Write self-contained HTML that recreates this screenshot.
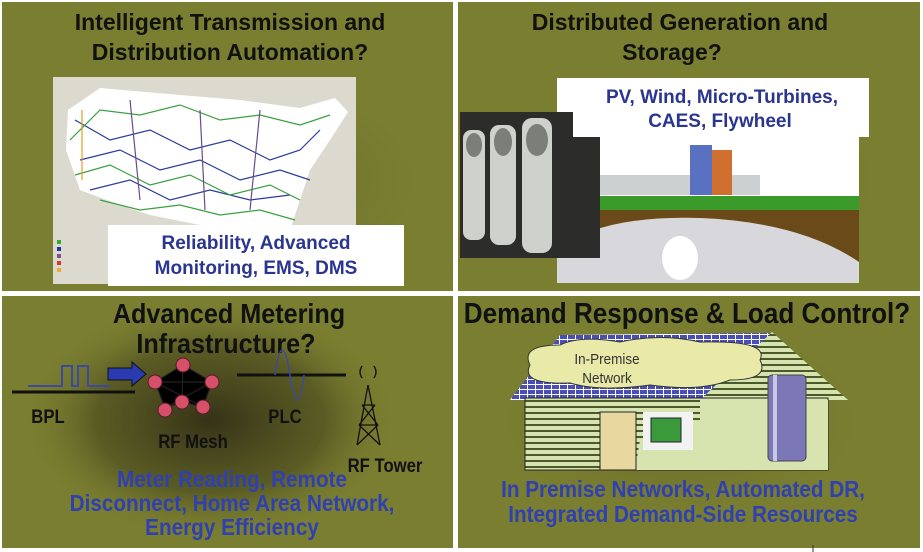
<!DOCTYPE html>
<html><head><meta charset="utf-8"><style>
html,body{margin:0;padding:0;background:#fff;}
svg{display:block;}
.t{font-family:"Liberation Sans",sans-serif;font-weight:bold;}
.n{font-family:"Liberation Sans",sans-serif;font-weight:bold;}
</style></head><body>
<svg width="923" height="552" viewBox="0 0 923 552" xmlns="http://www.w3.org/2000/svg">
<defs>
<radialGradient id="vg" cx="0.5" cy="0.5" r="0.5">
<stop offset="0" stop-color="#2e2a14" stop-opacity="0.9"/>
<stop offset="0.6" stop-color="#3a3818" stop-opacity="0.5"/>
<stop offset="1" stop-color="#7a7e30" stop-opacity="0"/>
</radialGradient>
<radialGradient id="vg2" cx="0.5" cy="0.5" r="0.5">
<stop offset="0" stop-color="#4a4a20" stop-opacity="0.6"/>
<stop offset="1" stop-color="#7a7e30" stop-opacity="0"/>
</radialGradient>
<pattern id="sid" width="8" height="6" patternUnits="userSpaceOnUse"><rect width="8" height="6" fill="#d8e4b0"/><rect y="4" width="8" height="2" fill="#4a5a2a"/></pattern>
<pattern id="tile" width="8" height="5" patternUnits="userSpaceOnUse"><rect width="8" height="5" fill="#fff"/><rect x="0" y="0" width="7" height="4" fill="#4a4fb8"/></pattern>
</defs>
<rect width="923" height="552" fill="#fff"/>
<rect x="2" y="2" width="451" height="289" fill="#7a7e30"/>
<rect x="458" y="2" width="462" height="289" fill="#7a7e30"/>
<rect x="2" y="296" width="451" height="252" fill="#7a7e30"/>
<rect x="458" y="296" width="462" height="252" fill="#7a7e30"/>
<rect x="40" y="70" width="400" height="220" fill="url(#vg2)"/>
<rect x="480" y="70" width="420" height="220" fill="url(#vg2)"/>
<ellipse cx="210" cy="420" rx="190" ry="120" fill="url(#vg)"/>
<ellipse cx="680" cy="420" rx="200" ry="110" fill="url(#vg2)"/>

<!-- TL -->
<text class="t" x="230" y="30" font-size="23" text-anchor="middle" fill="#111">Intelligent Transmission and</text>
<text class="t" x="230" y="60" font-size="23" text-anchor="middle" fill="#111">Distribution Automation?</text>
<rect x="53" y="77" width="303" height="207" fill="#dcdacf"/>
<path d="M68 110 L100 88 L180 95 L240 100 L300 108 L335 98 L348 112 L330 140 L310 170 L300 200 L290 230 L200 225 L150 215 L120 205 L80 190 L66 150 Z" fill="#fff"/>
<g stroke-width="1.2" fill="none">
<path d="M75 120 L110 140 L150 130 L190 150 L230 140 L270 160 L300 150 L320 130" stroke="#2a3aa0"/>
<path d="M80 160 L120 150 L160 170 L200 160 L240 180 L280 170 L310 180" stroke="#2a3aa0"/>
<path d="M90 190 L130 180 L170 200 L210 190 L250 200 L290 195" stroke="#2a3aa0"/>
<path d="M70 140 L100 110 L140 115 L180 105 L220 120 L260 115 L300 125 L330 115" stroke="#3aa040"/>
<path d="M75 175 L110 165 L150 185 L190 175 L230 195 L270 185 L300 200" stroke="#3aa040"/>
<path d="M100 200 L140 210 L180 205 L220 215 L260 210 L295 220" stroke="#3aa040"/>
<path d="M130 100 L140 200 M200 110 L205 210 M260 110 L250 210" stroke="#6a4a8a"/>
<path d="M82 110 L82 180" stroke="#e0a020"/>
</g>
<rect x="57" y="240" width="4" height="4" fill="#3a3"/><rect x="57" y="247" width="4" height="4" fill="#23a"/><rect x="57" y="254" width="4" height="4" fill="#758"/><rect x="57" y="261" width="4" height="4" fill="#d33"/><rect x="57" y="268" width="4" height="4" fill="#ea3"/>
<rect x="108" y="225" width="296" height="61" fill="#fff"/>
<text class="t" x="256" y="249" font-size="19" text-anchor="middle" fill="#2a3590">Reliability, Advanced</text>
<text class="t" x="256" y="274" font-size="19" text-anchor="middle" fill="#2a3590">Monitoring, EMS, DMS</text>

<!-- TR -->
<text class="t" x="680" y="30" font-size="23" text-anchor="middle" fill="#111">Distributed Generation and</text>
<text class="t" x="672" y="60" font-size="23" text-anchor="middle" fill="#111">Storage?</text>
<rect x="557" y="78" width="302" height="205" fill="#fff"/>
<rect x="557" y="196" width="302" height="14" fill="#3a9a2a"/>
<path d="M557 250 Q600 215 700 218 Q800 222 859 262 L859 283 L557 283 Z" fill="#d8d8dc"/>
<path d="M557 210 L859 210 L859 262 Q800 222 700 218 Q600 215 557 250 Z" fill="#6a4a18"/>
<ellipse cx="680" cy="258" rx="18" ry="22" fill="#fff"/>
<rect x="600" y="175" width="160" height="20" fill="#cdd0d0"/>
<rect x="690" y="145" width="22" height="50" fill="#5a70c0"/>
<rect x="712" y="150" width="20" height="45" fill="#d07030"/>
<rect x="460" y="112" width="140" height="146" fill="#2c2c2a"/>
<g fill="#cfd2cc"><rect x="463" y="130" width="22" height="110" rx="8"/><rect x="490" y="125" width="26" height="120" rx="9"/><rect x="522" y="118" width="30" height="135" rx="10"/></g>
<g fill="#7c7e7a"><ellipse cx="474" cy="145" rx="8" ry="12"/><ellipse cx="503" cy="142" rx="9" ry="14"/><ellipse cx="537" cy="140" rx="11" ry="16"/></g>
<rect x="573" y="78" width="296" height="59" fill="#fff"/>
<text class="t" x="722" y="103" font-size="19" text-anchor="middle" fill="#2a3590">PV, Wind, Micro-Turbines,</text>
<text class="t" x="720" y="127" font-size="19" text-anchor="middle" fill="#2a3590">CAES, Flywheel</text>

<!-- BL -->
<text class="n" transform="translate(229,323) scale(0.9,1)" font-size="28" text-anchor="middle" fill="#111">Advanced Metering</text>
<text class="n" transform="translate(226,353) scale(0.9,1)" font-size="28" text-anchor="middle" fill="#111">Infrastructure?</text>
<line x1="12" y1="392" x2="135" y2="392" stroke="#111" stroke-width="3"/>
<path d="M28 386 L62 386 L62 366 L72 366 L72 386 L78 386 L78 366 L88 366 L88 386 L110 386" stroke="#3a4aa0" stroke-width="2" fill="none"/>
<path d="M108 368 L132 368 L132 362 L146 374 L132 386 L132 380 L108 380 Z" fill="#2a3ab0" stroke="#111"/>
<g stroke="#222" stroke-width="1.2"><path d="M155 382 L183 365 L212 382 L203 407 L182 402 L165 408 Z M183 365 L182 402 M155 382 L212 382 M165 408 L212 382 M155 382 L203 407"/></g>
<g fill="#d6506a" stroke="#5a1a2a"><circle cx="155" cy="382" r="7"/><circle cx="183" cy="365" r="7"/><circle cx="212" cy="382" r="7"/><circle cx="203" cy="407" r="7"/><circle cx="182" cy="402" r="7"/><circle cx="165" cy="410" r="7"/></g>
<line x1="237" y1="375" x2="346" y2="375" stroke="#111" stroke-width="3"/>
<path d="M275 375 Q282 325 290 375 Q298 425 304 375" stroke="#3a4aa0" stroke-width="1.5" fill="none"/>
<g stroke="#111" stroke-width="1.3" fill="none"><path d="M368 385 L357 445 M368 385 L380 445 M362 405 L375 405 M359 425 L378 425 M362 405 L378 425 M375 405 L359 425 M359 425 L380 445 M378 425 L357 445"/><path d="M362 378 Q358 372 362 366 M374 378 Q378 372 374 366"/></g>
<text class="n" transform="translate(48,423) scale(0.88,1)" font-size="19" text-anchor="middle" fill="#111">BPL</text>
<text class="n" transform="translate(193,448) scale(0.88,1)" font-size="19" text-anchor="middle" fill="#111">RF Mesh</text>
<text class="n" transform="translate(285,423) scale(0.88,1)" font-size="19" text-anchor="middle" fill="#111">PLC</text>
<text class="n" transform="translate(385,472) scale(0.88,1)" font-size="19" text-anchor="middle" fill="#111">RF Tower</text>
<text class="n" transform="translate(232,487) scale(0.9,1)" font-size="23" text-anchor="middle" fill="#3040b0">Meter Reading, Remote</text>
<text class="n" transform="translate(232,511) scale(0.9,1)" font-size="23" text-anchor="middle" fill="#3040b0">Disconnect, Home Area Network,</text>
<text class="n" transform="translate(232,535) scale(0.9,1)" font-size="23" text-anchor="middle" fill="#3040b0">Energy Efficiency</text>

<!-- BR -->
<text class="n" transform="translate(687,323) scale(0.9,1)" font-size="29" text-anchor="middle" fill="#111">Demand Response &amp; Load Control?</text>
<path d="M510 400 L560 335 L770 333 L848 400 Z" fill="url(#tile)"/>
<path d="M700 400 L772 332 L848 400 Z" fill="url(#sid)"/>
<rect x="525" y="398" width="303" height="72" fill="url(#sid)" stroke="#222"/>
<path d="M700 400 L828 400 L828 470 L635 470 L640 440 L700 420 Z" fill="#d8e4b0"/>
<rect x="600" y="412" width="36" height="58" fill="#e8d8a0" stroke="#222"/>
<rect x="643" y="412" width="50" height="38" fill="#f2f2f2"/>
<rect x="651" y="418" width="30" height="24" fill="#3a9a3a" stroke="#223"/>
<rect x="768" y="375" width="38" height="86" rx="4" fill="#7c78b8" stroke="#444"/>
<rect x="773" y="375" width="4" height="86" fill="#c8c8e0"/>
<path d="M530 365 Q520 345 560 345 Q580 335 620 342 Q660 333 700 342 Q770 340 760 360 Q770 380 730 380 Q700 392 650 385 Q600 392 570 383 Q520 385 530 365 Z" fill="#eaeaa8" stroke="#333"/>
<text transform="translate(607,364) scale(0.9,1)" font-family="Liberation Sans,sans-serif" font-size="15" text-anchor="middle" fill="#333">In-Premise</text>
<text transform="translate(607,383) scale(0.9,1)" font-family="Liberation Sans,sans-serif" font-size="15" text-anchor="middle" fill="#333">Network</text>
<text class="n" transform="translate(683,497) scale(0.9,1)" font-size="23" text-anchor="middle" fill="#3040b0">In Premise Networks, Automated DR,</text>
<text class="n" transform="translate(683,522) scale(0.9,1)" font-size="23" text-anchor="middle" fill="#3040b0">Integrated Demand-Side Resources</text>
<line x1="813" y1="545" x2="813" y2="552" stroke="#333"/>
</svg>
</body></html>
